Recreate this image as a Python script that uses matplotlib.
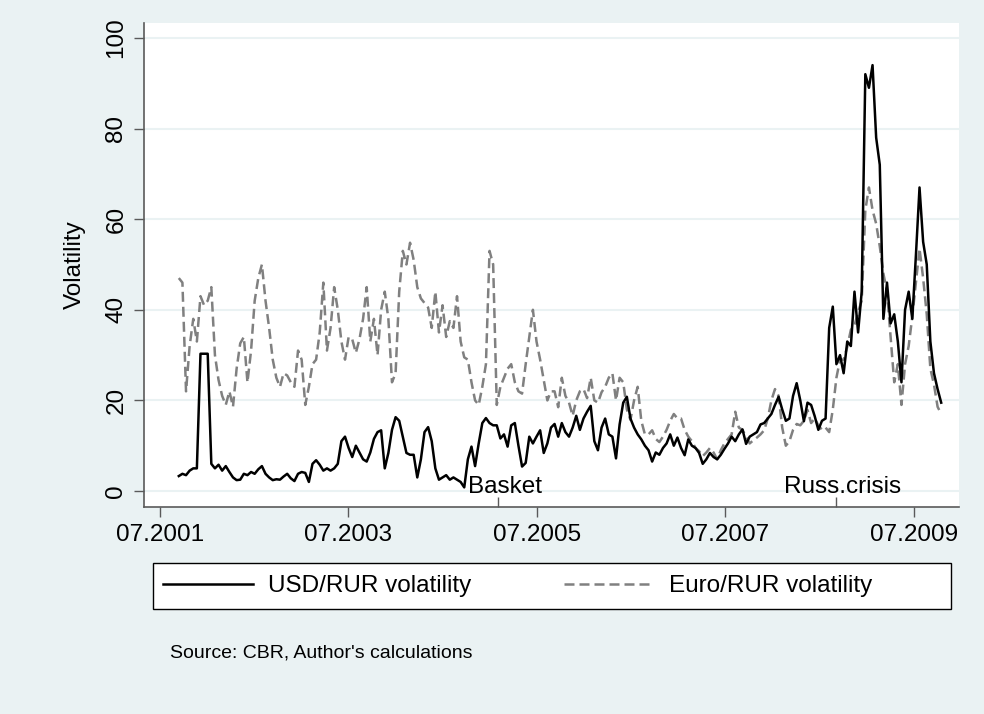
import matplotlib.pyplot as plt
import matplotlib.patches as mpatches
import matplotlib.dates as mdates
import pandas as pd

plt.rcParams["font.family"] = ["Liberation Sans", "DejaVu Sans"]

# volatility series at two-week steps from mid-Sept 2001
usd = [
    3.3, 3.8, 3.5, 4.5, 5.0, 5.0, 30.3, 30.3, 30.3, 6.0,
    5.0, 5.8, 4.5, 5.5, 4.2, 3.0, 2.4, 2.5, 3.8, 3.5,
    4.2, 3.8, 4.8, 5.5, 3.8, 3.0, 2.4, 2.6, 2.5, 3.2,
    3.8, 2.8, 2.2, 3.8, 4.2, 4.0, 2.0, 6.0, 6.8, 5.8,
    4.5, 5.0, 4.5, 5.0, 6.0, 11.0, 12.0, 9.5, 7.5, 10.0,
    8.5, 7.0, 6.5, 8.5, 11.5, 13.0, 13.4, 5.0, 8.4, 13.5,
    16.3, 15.5, 12.0, 8.4, 8.0, 8.0, 3.0, 7.0, 13.0, 14.1,
    11.0, 5.0, 2.5, 3.0, 3.5, 2.5, 3.0, 2.5, 2.0, 0.8,
    7.0, 9.8, 5.5, 10.5, 15.0, 16.1, 15.0, 14.5, 14.5, 11.6,
    12.5, 9.8, 14.5, 15.0, 10.0, 5.4, 6.2, 12.0, 10.5, 12.0,
    13.4, 8.4, 10.5, 14.0, 14.8, 12.0, 15.0, 13.0, 12.0, 14.0,
    16.6, 13.5, 16.0, 17.5, 18.8, 11.0, 9.0, 14.0, 16.0, 12.5,
    12.0, 7.2, 14.7, 19.5, 20.8, 16.0, 14.0, 12.5, 11.4, 10.0,
    9.0, 6.5, 8.5, 8.0, 9.5, 10.5, 12.5, 10.0, 11.8, 9.5,
    7.9, 11.4, 10.0, 9.5, 8.4, 6.0, 7.0, 8.4, 7.5, 7.0,
    8.0, 9.3, 10.5, 12.0, 11.0, 12.5, 13.6, 10.4, 12.0, 12.5,
    13.0, 14.7, 15.0, 16.0, 17.0, 19.0, 20.8, 18.0, 15.5, 16.0,
    21.0, 23.8, 20.0, 15.4, 19.5, 19.0, 16.5, 13.5, 15.5, 16.0,
    36.0, 40.7, 28.0, 30.0, 26.0, 33.0, 32.0, 44.0, 35.0, 44.0,
    92.0, 89.0, 94.0, 78.0, 72.0, 38.0, 46.0, 37.0, 39.0, 33.0,
    24.0, 40.0, 44.0, 38.0, 52.0, 67.0, 55.0, 50.0, 33.0, 26.0,
    22.5, 19.5,
]
eur = [
    47, 46, 22, 32, 38, 33, 43, 41, 42, 45,
    30, 24.5, 21, 19, 22, 18.6, 27, 32.6, 34, 24,
    31, 42, 47, 50, 42, 36, 29, 25, 23, 26,
    25.5, 24, 23, 31, 29, 19, 23, 28, 29, 35,
    46, 31, 36, 45, 40, 33, 29, 34, 33.5, 30.5,
    33.5, 38, 45, 33, 38, 30, 40, 44, 38, 24,
    26, 44, 53, 50, 54.8, 51, 45, 42.5, 41.5, 40.5,
    36, 44, 35, 41, 34, 37.5, 36, 43, 33, 29.5,
    29, 24, 20, 19, 23, 28, 53, 50, 19, 23,
    25, 27, 28, 24, 22, 21.5, 28, 34, 40, 33,
    29, 24.5, 20, 22, 22, 18.5, 25, 21, 19.5, 16.6,
    20, 22, 22.5, 20.5, 25, 20, 19.5, 21.8, 23, 25,
    26, 20, 25, 24, 18, 15.7, 20, 23, 15.5, 12.5,
    12.5, 13.4, 11.5, 10.8, 12, 13.5, 15.5, 17, 16, 16,
    13.5, 12, 11, 9.5, 8.8, 7.7, 8.5, 9.5, 8.5, 7.0,
    9, 10.5, 11.5, 12.5, 17.5, 14, 13.5, 12, 10.5, 11.2,
    11.8, 12.5, 13.4, 16, 20, 22.5, 21, 14, 10, 11,
    13.5, 14.8, 14.5, 15.5, 17.9, 15, 16, 14.5, 13.5, 14,
    13, 18, 25, 29, 29, 31.8, 35.6, 36.5, 39.5, 42,
    62, 67, 62, 59, 54, 48, 44, 34, 24, 28,
    19, 28, 32, 38.5, 46, 53.5, 47, 39, 27, 23.5,
    18.6, 17,
]
dates = pd.date_range("2001-09-13", periods=len(usd), freq="14D")

tick_dates = pd.to_datetime(["2001-07-01", "2003-07-01", "2005-07-01", "2007-07-01", "2009-07-01"])
tick_labels = ["07.2001", "07.2003", "07.2005", "07.2007", "07.2009"]
event_dates = pd.to_datetime(["2005-02-01", "2008-09-01"])
event_labels = ["Basket", "Russ.crisis"]

BG = "#eaf2f3"
AXC = "#5a5a5a"
FS = 17.5

fig = plt.figure(figsize=(9.84, 7.14), dpi=100, facecolor=BG)
ax = fig.add_axes([0.1463, 0.2899, 0.8283, 0.6779])
ax.set_facecolor("white")

l_eur, = ax.plot(dates, eur, color="#808080", lw=1.8, dashes=(4, 2), label="Euro/RUR volatility")
l_usd, = ax.plot(dates, usd, color="black", lw=1.8, label="USD/RUR volatility")

ax.set_ylim(-3.53, 103.3)
ax.set_xlim(pd.Timestamp("2001-05-01"), pd.Timestamp("2009-12-23"))
ax.set_yticks(range(0, 101, 20))
ax.set_yticklabels([str(v) for v in range(0, 101, 20)], rotation=90, va="center")
ax.set_xticks(tick_dates)
ax.set_xticklabels(tick_labels)
ax.set_xticks(event_dates, minor=True)
ax.yaxis.grid(True, color=BG, lw=1.5)
ax.set_axisbelow(True)

for s in ["top", "right"]:
    ax.spines[s].set_visible(False)
for s in ["left", "bottom"]:
    ax.spines[s].set_color(AXC)
    ax.spines[s].set_linewidth(1.2)

ax.tick_params(which="major", length=7, width=1, color=AXC, labelsize=FS, pad=5)
ax.tick_params(axis="x", which="minor", direction="in", length=7, width=1, color=AXC)
ax.set_ylabel("Volatility", fontsize=FS, labelpad=14)

for d, lab in zip(event_dates, event_labels):
    ax.annotate(lab, xy=(mdates.date2num(d), 0.029), xycoords=ax.get_xaxis_transform(),
                xytext=(5, 0), textcoords="offset points",
                ha="center", va="baseline", fontsize=FS)

# legend box drawn separately so the entries can sit where the original has them
fig.patches.append(mpatches.Rectangle((153 / 984, 1 - 609 / 714), 798 / 984, 46 / 714,
                                      transform=fig.transFigure, facecolor="white",
                                      edgecolor="black", lw=1.0, zorder=1))
fig.legend(handles=[l_usd, l_eur], loc="center left",
           bbox_to_anchor=(163 / 984, 1 - 586 / 714), ncol=2, frameon=False,
           handlelength=3.7, handletextpad=0.6, columnspacing=3.85, fontsize=FS,
           borderaxespad=0, borderpad=0)

fig.text(170 / 984, 1 - 653 / 714, "Source: CBR, Author's calculations", fontsize=14,
         ha="left", va="center")

fig.savefig("out.png", dpi=100, facecolor=BG)
